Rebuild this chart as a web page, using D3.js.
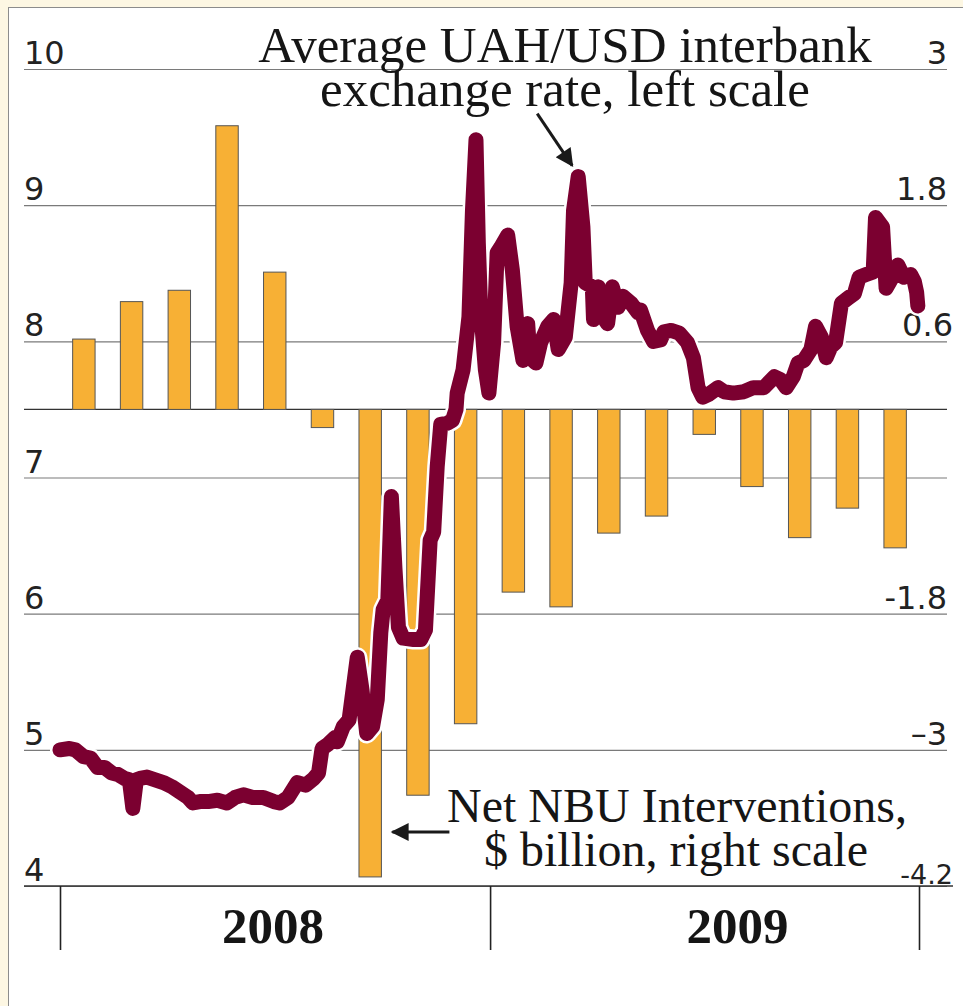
<!DOCTYPE html>
<html>
<head>
<meta charset="utf-8">
<script src="https://cdn.jsdelivr.net/npm/d3@7"></script>
<style>
  body { margin: 0; background: #fdf7e3; }
  svg { display: block; }
  .note { font-family: "Liberation Serif", "Times New Roman", serif; fill: #151515; }
  .yr { font-family: "Liberation Serif", "Times New Roman", serif; font-weight: bold; fill: #151515; }
</style>
</head>
<body>
<svg id="chart" width="963" height="1006"></svg>
<script>
// net NBU interventions, $ billion (right scale)
var barPeriods = ["1","2","3","4","5","6","7","8","9","10","11","12","13","14","15","16","17","18"];
var barValues  = [0.62, 0.95, 1.05, 2.50, 1.21, -0.16, -4.12, -3.40, -2.77, -1.61, -1.74, -1.09, -0.94, -0.22, -0.68, -1.13, -0.87, -1.22];

// average UAH/USD interbank rate (left scale)
var rateDates = [
  "2008-01-01","2008-01-09","2008-01-14","2008-01-21","2008-01-27","2008-02-02","2008-02-08","2008-02-14","2008-02-19","2008-02-25",
  "2008-02-29","2008-03-03","2008-03-06","2008-03-09","2008-03-15","2008-03-22","2008-03-29","2008-04-05","2008-04-12","2008-04-19",
  "2008-04-23","2008-04-29","2008-05-06","2008-05-14","2008-05-22","2008-05-29","2008-06-05","2008-06-13","2008-06-22","2008-07-01",
  "2008-07-06","2008-07-13","2008-07-21","2008-07-28","2008-08-04","2008-08-08","2008-08-11","2008-08-16","2008-08-22","2008-08-24",
  "2008-08-29","2008-09-03","2008-09-10","2008-09-14","2008-09-18","2008-09-23","2008-09-27","2008-09-30","2008-10-02","2008-10-06",
  "2008-10-09","2008-10-12","2008-10-15","2008-10-19","2008-10-28","2008-11-03","2008-11-07","2008-11-11","2008-11-14","2008-11-17",
  "2008-11-20","2008-11-26","2008-11-30","2008-12-03","2008-12-04","2008-12-09","2008-12-14","2008-12-17","2008-12-20","2008-12-22",
  "2008-12-24","2008-12-28","2008-12-31",
  "2009-01-04","2009-01-07","2009-01-10","2009-01-16","2009-01-20","2009-01-24","2009-01-29","2009-02-02","2009-02-04","2009-02-09",
  "2009-02-13","2009-02-19","2009-02-24","2009-02-28","2009-03-06","2009-03-11","2009-03-13","2009-03-17","2009-03-21","2009-03-23",
  "2009-03-29","2009-03-30","2009-04-03","2009-04-07","2009-04-11","2009-04-15","2009-04-20","2009-04-24","2009-05-01","2009-05-07",
  "2009-05-09","2009-05-15","2009-05-20","2009-05-26","2009-05-29","2009-06-04","2009-06-11","2009-06-18","2009-06-23","2009-06-27",
  "2009-07-01","2009-07-06","2009-07-14","2009-07-19","2009-07-27","2009-08-05","2009-08-13","2009-08-22","2009-08-31","2009-09-05",
  "2009-09-10","2009-09-16","2009-09-20","2009-09-25","2009-10-01","2009-10-05","2009-10-10","2009-10-14","2009-10-18","2009-10-22",
  "2009-10-27","2009-11-02","2009-11-07","2009-11-11","2009-11-17","2009-11-23","2009-11-25","2009-12-01","2009-12-04","2009-12-08",
  "2009-12-14","2009-12-19","2009-12-25","2009-12-28","2009-12-30","2009-12-31"
];
var rateValues = [
  5.00, 5.01, 5.00, 4.95, 4.94, 4.87, 4.87, 4.83, 4.82, 4.79,
  4.78, 4.57, 4.78, 4.79, 4.80, 4.78, 4.76, 4.73, 4.69, 4.65,
  4.61, 4.62, 4.62, 4.63, 4.61, 4.65, 4.67, 4.65, 4.65, 4.62,
  4.61, 4.65, 4.76, 4.74, 4.79, 4.83, 5.01, 5.04, 5.09, 5.06,
  5.17, 5.22, 5.68, 5.44, 5.12, 5.17, 5.37, 5.86, 6.03, 6.10,
  6.86, 6.34, 5.90, 5.82, 5.81, 5.81, 5.88, 6.54, 6.60, 7.08,
  7.39, 7.40, 7.42, 7.50, 7.62, 7.79, 8.18, 8.96, 9.48, 8.72,
  8.23, 7.79, 7.62,
  7.99, 8.65, 8.69, 8.78, 8.52, 8.11, 7.86, 8.13, 7.88, 7.84,
  7.99, 8.11, 8.16, 7.94, 8.03, 8.43, 8.96, 9.21, 8.84, 8.43,
  8.40, 8.16, 8.40, 8.18, 8.13, 8.40, 8.25, 8.33, 8.28, 8.21,
  8.23, 8.08, 8.00, 8.01, 8.07, 8.08, 8.06, 7.99, 7.88, 7.66,
  7.59, 7.61, 7.66, 7.63, 7.62, 7.63, 7.66, 7.66, 7.74, 7.72,
  7.66, 7.74, 7.84, 7.86, 7.94, 8.11, 8.03, 7.88, 7.96, 7.99,
  8.28, 8.32, 8.35, 8.47, 8.49, 8.51, 8.91, 8.84, 8.39, 8.45,
  8.56, 8.47, 8.49, 8.44, 8.36, 8.26
];

var leftTicks  = [10, 9, 8, 7, 6, 5, 4];
var rightTicks = [3, 1.8, 0.6, -1.8, -3, -4.2];
var rightLabels = ["3", "1.8", "0.6", "-1.8", "\u20133", "-4.2"];
var years = ["2008", "2009"];
var peakDate = "2009-03-17", peakValue = 9.21;   // the arrowed spike

var W = 963, H = 1006;
var parse = d3.timeParse("%Y-%m-%d");
var svg = d3.select("#chart");

// background + white panel
svg.append("rect").attr("width", W).attr("height", H).attr("fill", "#fdf7e3");
svg.append("rect").attr("x", 8.5).attr("y", 7.5).attr("width", W).attr("height", H)
  .attr("fill", "#fff").attr("stroke", "#8c8c8c");

var x  = d3.scaleTime().domain([parse("2008-01-01"), parse("2010-01-01")]).range([60, 919]);
var yL = d3.scaleLinear().domain([4, 10]).range([886, 69]);
var yR = d3.scaleLinear().domain([-4.2, 3]).range([886, 69]);
var xb = d3.scaleBand().domain(barPeriods).range([60, 919]).paddingInner(0.53).paddingOuter(0.265);

// gridlines + left labels
var gl = svg.append("g").attr("transform", "translate(24,0)")
  .call(d3.axisRight(yL).tickValues(leftTicks).tickSize(923).tickFormat(d3.format("d")));
gl.select(".domain").remove();
gl.selectAll("line").attr("stroke", "#7a7a7a").attr("stroke-width", 1.2);
gl.selectAll("text")
  .attr("x", 0).attr("dy", "-0.17em")
  .attr("text-anchor", "start")
  .attr("fill", "#222")
  .style("font-family", '"DejaVu Sans", sans-serif').style("font-size", "32px");

// zero line of the right scale
svg.append("line").attr("x1", 24).attr("x2", 947).attr("y1", yR(0)).attr("y2", yR(0))
  .attr("stroke", "#333").attr("stroke-width", 1.3);

// right labels
var gr = svg.append("g").attr("transform", "translate(947,0)")
  .call(d3.axisLeft(yR).tickValues(rightTicks).tickSize(0)
    .tickFormat(function(d, i) { return rightLabels[i]; }));
gr.select(".domain").remove();
gr.selectAll("text")
  .attr("x", function(d) { return d === -4.2 || d === 0.6 ? 6 : 0; })
  .attr("dy", function(d) { return d === -4.2 ? "-0.1em" : "-0.17em"; })
  .attr("fill", "#222")
  .style("font-family", '"DejaVu Sans", sans-serif')
  .style("font-size", function(d) { return d === -4.2 ? "27px" : "32px"; });

// bars
svg.append("g").selectAll("rect")
  .data(barValues)
  .enter().append("rect")
    .attr("x", function(d, i) { return xb(barPeriods[i]); })
    .attr("width", xb.bandwidth())
    .attr("y", function(d) { return yR(Math.max(0, d)); })
    .attr("height", function(d) { return Math.abs(yR(d) - yR(0)); })
    .attr("fill", "#f7b035")
    .attr("stroke", "#555")
    .attr("stroke-width", 1);

// exchange-rate line with white halo
var rate = rateDates.map(function(d, i) { return { date: parse(d), v: rateValues[i] }; });
var line = d3.line().x(function(d) { return x(d.date); }).y(function(d) { return yL(d.v); });
svg.append("path").datum(rate).attr("d", line)
  .attr("fill", "none").attr("stroke", "#fff").attr("stroke-width", 20)
  .attr("stroke-linejoin", "round").attr("stroke-linecap", "round");
svg.append("path").datum(rate).attr("d", line)
  .attr("fill", "none").attr("stroke", "#7b0030").attr("stroke-width", 15)
  .attr("stroke-linejoin", "round").attr("stroke-linecap", "round");

// bottom axis: baseline, year dividers, year labels
svg.append("line").attr("x1", 24).attr("x2", 953).attr("y1", yL(4)).attr("y2", yL(4))
  .attr("stroke", "#333").attr("stroke-width", 1.5);
var yearStarts = years.map(function(y) { return parse(y + "-01-01"); }).concat([parse("2010-01-01")]);
var gx = svg.append("g").attr("transform", "translate(0," + yL(4) + ")")
  .call(d3.axisBottom(x).tickValues(yearStarts).tickSize(64).tickSizeOuter(0).tickFormat(""));
gx.select(".domain").remove();
gx.selectAll("line").attr("stroke", "#222").attr("stroke-width", 1.6);

var yearNudge = [-2, 33];
svg.selectAll(".yr").data(years).enter().append("text")
  .attr("class", "yr")
  .attr("x", function(d, i) { return (x(yearStarts[i]) + x(yearStarts[i + 1])) / 2 + yearNudge[i]; })
  .attr("y", 943)
  .attr("text-anchor", "middle")
  .style("font-size", "51px")
  .text(function(d) { return d; });

// annotations
var defs = svg.append("defs");
defs.append("marker").attr("id", "head")
  .attr("viewBox", "0 0 10 10").attr("refX", 9).attr("refY", 5)
  .attr("markerWidth", 7).attr("markerHeight", 6).attr("orient", "auto")
  .attr("markerUnits", "strokeWidth")
  .append("path").attr("d", "M0,0 L10,5 L0,10 Z").attr("fill", "#1a1a1a");

var topNote = svg.append("text").attr("class", "note")
  .attr("text-anchor", "middle").style("font-size", "51px");
topNote.append("tspan").attr("x", 565).attr("y", 62).text("Average UAH/USD interbank");
topNote.append("tspan").attr("x", 565).attr("y", 106).text("exchange rate, left scale");

var tipX = x(parse(peakDate)) - 6, tipY = yL(peakValue) - 11;
svg.append("line").attr("x1", tipX - 35).attr("y1", tipY - 52).attr("x2", tipX).attr("y2", tipY)
  .attr("stroke", "#1a1a1a").attr("stroke-width", 3).attr("marker-end", "url(#head)");

var botNote = svg.append("text").attr("class", "note")
  .attr("text-anchor", "middle").style("font-size", "48px");
botNote.append("tspan").attr("x", 677).attr("y", 822).text("Net NBU Interventions,");
botNote.append("tspan").attr("x", 676).attr("y", 866).text("$ billion, right scale");

var barTipX = xb(barPeriods[6]) + xb.bandwidth() + 11;
svg.append("line").attr("x1", barTipX + 57).attr("y1", 832).attr("x2", barTipX).attr("y2", 832)
  .attr("stroke", "#1a1a1a").attr("stroke-width", 3).attr("marker-end", "url(#head)");
</script>
</body>
</html>
